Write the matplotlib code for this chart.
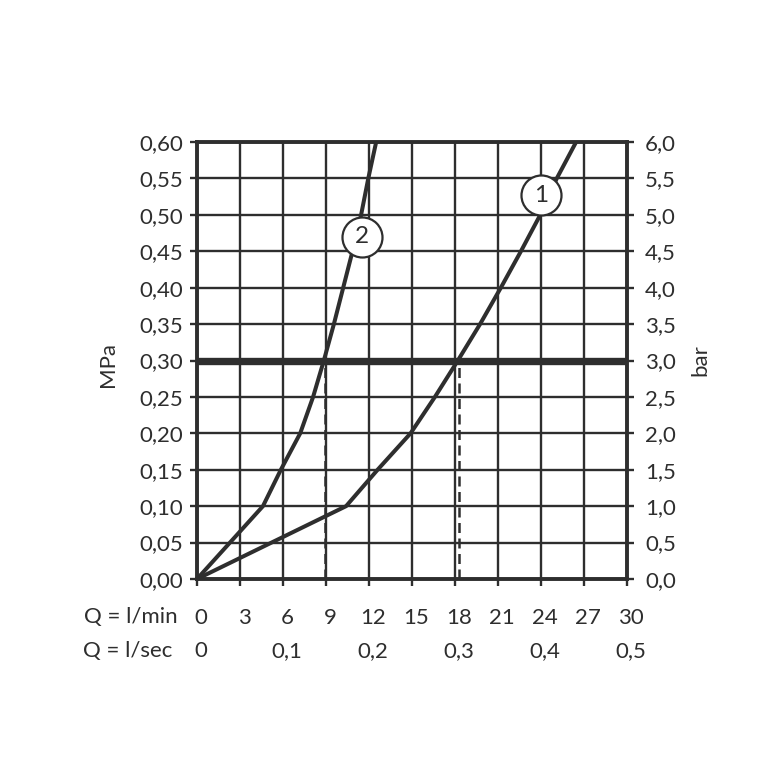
#---------import---------#
import numpy as np
import matplotlib
matplotlib.use('Agg')
import matplotlib.pyplot as plt
import matplotlib.transforms as mtransforms
#------------------------#


#----------Data----------#
# curve 1 : flow (l/min) vs pressure (MPa)
curve1_q = [0, 10.4, 12.6, 14.9, 16.6, 18.2, 19.75, 21.2, 22.6, 23.95, 25.1, 26.45]
curve1_p = [0, 0.10, 0.15, 0.20, 0.25, 0.30, 0.35, 0.40, 0.45, 0.50, 0.55, 0.60]
# curve 2
curve2_q = [0, 4.6, 5.85, 7.2, 8.1, 8.85, 9.55, 10.2, 10.85, 11.45, 11.95, 12.5]
curve2_p = [0, 0.10, 0.15, 0.20, 0.25, 0.30, 0.35, 0.40, 0.45, 0.50, 0.55, 0.60]

ref_pressure = 0.30            # thick line
ref_flows = [8.9, 18.25]       # dashed drops
label_names = ['1', '2']
label_q = [23.98, 11.53]
label_p = [0.527, 0.470]

q_lmin_ticks = [0, 3, 6, 9, 12, 15, 18, 21, 24, 27, 30]
q_lsec_ticks = [0, 0.1, 0.2, 0.3, 0.4, 0.5]
mpa_ticks = [round(0.05 * i, 2) for i in range(13)]
bar_ticks = [round(0.5 * i, 1) for i in range(13)]
#------------------------#


#------Setting_font------#
plt.rcParams['font.family'] = ['Lato', 'DejaVu Sans']
ink = '#2e2e2e'
fs = 16
#------------------------#


#---------Figure---------#
fig = plt.figure(figsize=(7.58, 7.68), dpi=100)
ax = fig.add_axes([197 / 758, 1 - 579 / 768, 430 / 758, 437 / 768])
ax.set_xlim(0, 30)
ax.set_ylim(0, 0.6)

# grid
ax.set_xticks(q_lmin_ticks)
ax.set_yticks(mpa_ticks)
ax.grid(True, color=ink, linewidth=1.7)
ax.set_axisbelow(True)

for s in ax.spines.values():
    s.set_color(ink)
    s.set_linewidth(2.8)

ax.tick_params(axis='both', direction='out', length=5, width=1.7, color=ink,
               labelcolor=ink, labelsize=fs)
ax.tick_params(axis='y', pad=5)
ax.tick_params(axis='x', pad=16)
ax.set_yticklabels([f"{v:.2f}".replace('.', ',') for v in mpa_ticks])
ax.set_xticklabels([str(v) for v in q_lmin_ticks])
shift = mtransforms.ScaledTranslation(4 / 100, 0, fig.dpi_scale_trans)
for lbl in ax.get_xticklabels():
    lbl.set_transform(lbl.get_transform() + shift)

# right axis in bar
ax2 = ax.twinx()
ax2.set_ylim(0, 6)
ax2.set_yticks(bar_ticks)
ax2.set_yticklabels([f"{v:.1f}".replace('.', ',') for v in bar_ticks])
ax2.tick_params(axis='y', direction='out', length=5, width=1.7, color=ink,
                labelcolor=ink, labelsize=fs, pad=8)
for s in ax2.spines.values():
    s.set_visible(False)

# reference lines
ax.axhline(ref_pressure, color=ink, linewidth=5.3, zorder=3)
for q in ref_flows:
    ax.plot([q, q], [0, ref_pressure], color=ink, linewidth=1.8,
            linestyle=(0, (4, 2.2)), zorder=3)

# curves
ax.plot(curve1_q, curve1_p, color=ink, linewidth=2.9, zorder=4,
        solid_joinstyle='miter')
ax.plot(curve2_q, curve2_p, color=ink, linewidth=2.9, zorder=4,
        solid_joinstyle='miter')

# circled labels
ax.scatter(label_q, label_p, s=830, facecolor='white', edgecolor=ink,
           linewidth=1.6, zorder=5, clip_on=False)
for name, q, p in zip(label_names, label_q, label_p):
    ax.text(q, p, name, ha='center', va='center', fontsize=17.5, color=ink,
            zorder=6)

# second x row : l/sec
blend = mtransforms.blended_transform_factory(ax.transData, ax.transAxes)
for v in q_lsec_ticks:
    txt = '0' if v == 0 else f"{v:.1f}".replace('.', ',')
    ax.text(v * 60, -0.165, txt, transform=blend + shift, ha='center',
            va='center', fontsize=fs, color=ink)

ax.text(-0.044, -0.087, 'Q = l/min', transform=ax.transAxes, ha='right',
        va='center', fontsize=fs, color=ink)
ax.text(-0.058, -0.165, 'Q = l/sec', transform=ax.transAxes, ha='right',
        va='center', fontsize=fs, color=ink)

ax.text(-0.207, 0.49, 'MPa', transform=ax.transAxes, rotation=90,
        ha='center', va='center', fontsize=fs, color=ink)
ax.text(1.17, 0.50, 'bar', transform=ax.transAxes, rotation=90,
        ha='center', va='center', fontsize=fs, color=ink)

fig.savefig('out.png', dpi=100, facecolor='white')
#------------------------#
